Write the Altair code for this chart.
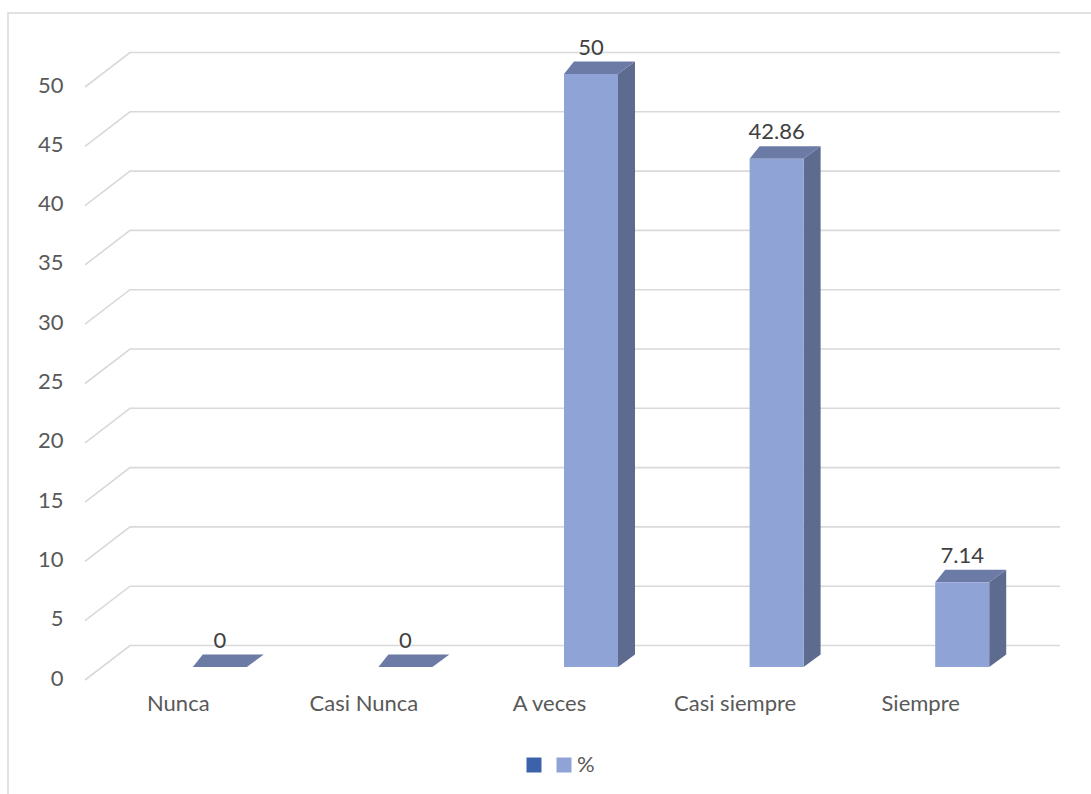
import altair as alt
import pandas as pd

# Survey answers and the share (%) of respondents for each one
categories = ["Nunca", "Casi Nunca", "A veces", "Casi siempre", "Siempre"]
percent = [0, 0, 50, 42.86, 7.14]
y_ticks = [0, 5, 10, 15, 20, 25, 30, 35, 40, 45, 50]
series_names = [" ", "%"]
series_colors = ["#3B62AB", "#8FA3D6"]

# Plot area in pixels and conversion of pixel offsets into data units
W, H = 928, 593
X_MIN, X_MAX = -0.5, len(categories) - 0.5
Y_MIN, Y_MAX = 0, 50
PX = (X_MAX - X_MIN) / W        # category units per pixel
PY = (Y_MAX - Y_MIN) / H        # value units per pixel

# Oblique 3-D projection offsets (pixels)
WALL_DX, WALL_DY = 45, 34.5     # back wall behind the front plane
WALL_RIGHT = 47                 # wall extends past the front plane on the right
BAR_L, BAR_R = 15, 69           # front face of the bar relative to category centre
BAR_BASE = 13                   # bar floor sits above the front plane baseline
BACK_DXL, BACK_DXR, BACK_DY = 10, 17, 12.5  # bar depth

FONT = "Lato"
FONT_SIZE = 22
TEXT_COLOR = "#595959"
GRID_COLOR = "#D9D9D9"
FRONT, SIDE, TOP = "#8FA3D6", "#5D6B8E", "#6B7BA6"

xscale = alt.Scale(domain=[X_MIN, X_MAX], nice=False, zero=False)
yscale = alt.Scale(domain=[Y_MIN, Y_MAX], nice=False, zero=False)

label_expr = "{}[round(datum.value)]".format(
    "[" + ",".join("'" + c + "'" for c in categories) + "]"
)
x_axis = alt.Axis(
    values=list(range(len(categories))), labelExpr=label_expr, title=None,
    domain=False, ticks=False, grid=False, labelFont=FONT, labelFontSize=FONT_SIZE,
    labelColor=TEXT_COLOR, labelPadding=13,
)
y_axis = alt.Axis(
    values=y_ticks, title=None, domain=False, ticks=False, grid=False,
    labelFont=FONT, labelFontSize=FONT_SIZE, labelColor=TEXT_COLOR, labelPadding=22,
    labelOffset=-2,
)


def X(field="x"):
    return alt.X(f"{field}:Q", scale=xscale, axis=x_axis)


def Y(field="y"):
    return alt.Y(f"{field}:Q", scale=yscale, axis=y_axis)


# Gridlines: short diagonal from the front plane to the back wall, then across the wall
grid_rows = []
for v in y_ticks:
    grid_rows.append({"v": v, "i": 0, "x": X_MIN, "y": v})
    grid_rows.append({"v": v, "i": 1, "x": X_MIN + WALL_DX * PX, "y": v + WALL_DY * PY})
    grid_rows.append({"v": v, "i": 2, "x": X_MAX + WALL_RIGHT * PX, "y": v + WALL_DY * PY})
grid_df = pd.DataFrame(grid_rows)

grid = alt.Chart(grid_df).mark_line(color=GRID_COLOR, strokeWidth=1.6).encode(
    x=X(), y=Y(), detail="v:N", order="i:Q"
)

# Bar faces
front_rows, side_rows, top_rows, label_rows = [], [], [], []
base = BAR_BASE * PY
for i, (cat, v) in enumerate(zip(categories, percent)):
    left, right = i + BAR_L * PX, i + BAR_R * PX
    front_rows.append({"cat": cat, "series": "%", "x": left, "x2": right,
                       "y": base, "y2": base + v})
    side_rows.append({"cat": cat, "x": right, "y": base + v, "y2": base})
    side_rows.append({"cat": cat, "x": right + BACK_DXR * PX,
                      "y": base + v + BACK_DY * PY, "y2": base + BACK_DY * PY})
    top_rows.append({"cat": cat, "y": base + v, "x": left, "x2": right})
    top_rows.append({"cat": cat, "y": base + v + BACK_DY * PY,
                     "x": left + BACK_DXL * PX, "x2": right + BACK_DXR * PX})
    label_rows.append({"cat": cat, "x": (left + right) / 2,
                       "y": base + v + BACK_DY * PY, "text": f"{v:g}"})

front_df = pd.DataFrame(front_rows)
side_df = pd.DataFrame(side_rows)
top_df = pd.DataFrame(top_rows)
label_df = pd.DataFrame(label_rows)

front = alt.Chart(front_df).mark_rect().encode(
    x=X(), x2="x2:Q", y=Y(), y2="y2:Q",
    color=alt.Color(
        "series:N",
        scale=alt.Scale(domain=series_names, range=series_colors),
        legend=alt.Legend(
            title=None, orient="none", legendX=438, legendY=667,
            direction="horizontal", symbolType="square", symbolSize=225,
            symbolStrokeWidth=0, labelFont=FONT, labelFontSize=FONT_SIZE,
            labelColor=TEXT_COLOR, labelOffset=2, columnPadding=6,
        ),
    ),
)

side = alt.Chart(side_df).mark_area(orient="vertical", color=SIDE).encode(
    x=X(), y=Y(), y2="y2:Q", detail="cat:N"
)

top = alt.Chart(top_df).mark_area(orient="horizontal", color=TOP).encode(
    y=Y(), x=X(), x2="x2:Q", detail="cat:N"
)

labels = alt.Chart(label_df).mark_text(
    font=FONT, fontSize=FONT_SIZE, color="#404040", baseline="middle", dy=-14
).encode(x=X(), y=Y(), text="text:N")

# Outer frame of the chart area
frame = alt.Chart(pd.DataFrame({"k": [0]})).mark_rect(
    fillOpacity=0, stroke=GRID_COLOR, strokeWidth=1.5
).encode(
    x=alt.value(-77), x2=alt.value(W + 90), y=alt.value(-74), y2=alt.value(H + 130)
)

chart = alt.layer(frame, grid, side, top, front, labels).properties(
    width=W, height=H,
    autosize="none",
    padding={"left": 85, "top": 87, "right": 1091 - 85 - W, "bottom": 794 - 87 - H},
    background="white",
).configure_view(strokeWidth=0)

chart.save("out.html", embed_options={"renderer": "svg", "actions": False})
